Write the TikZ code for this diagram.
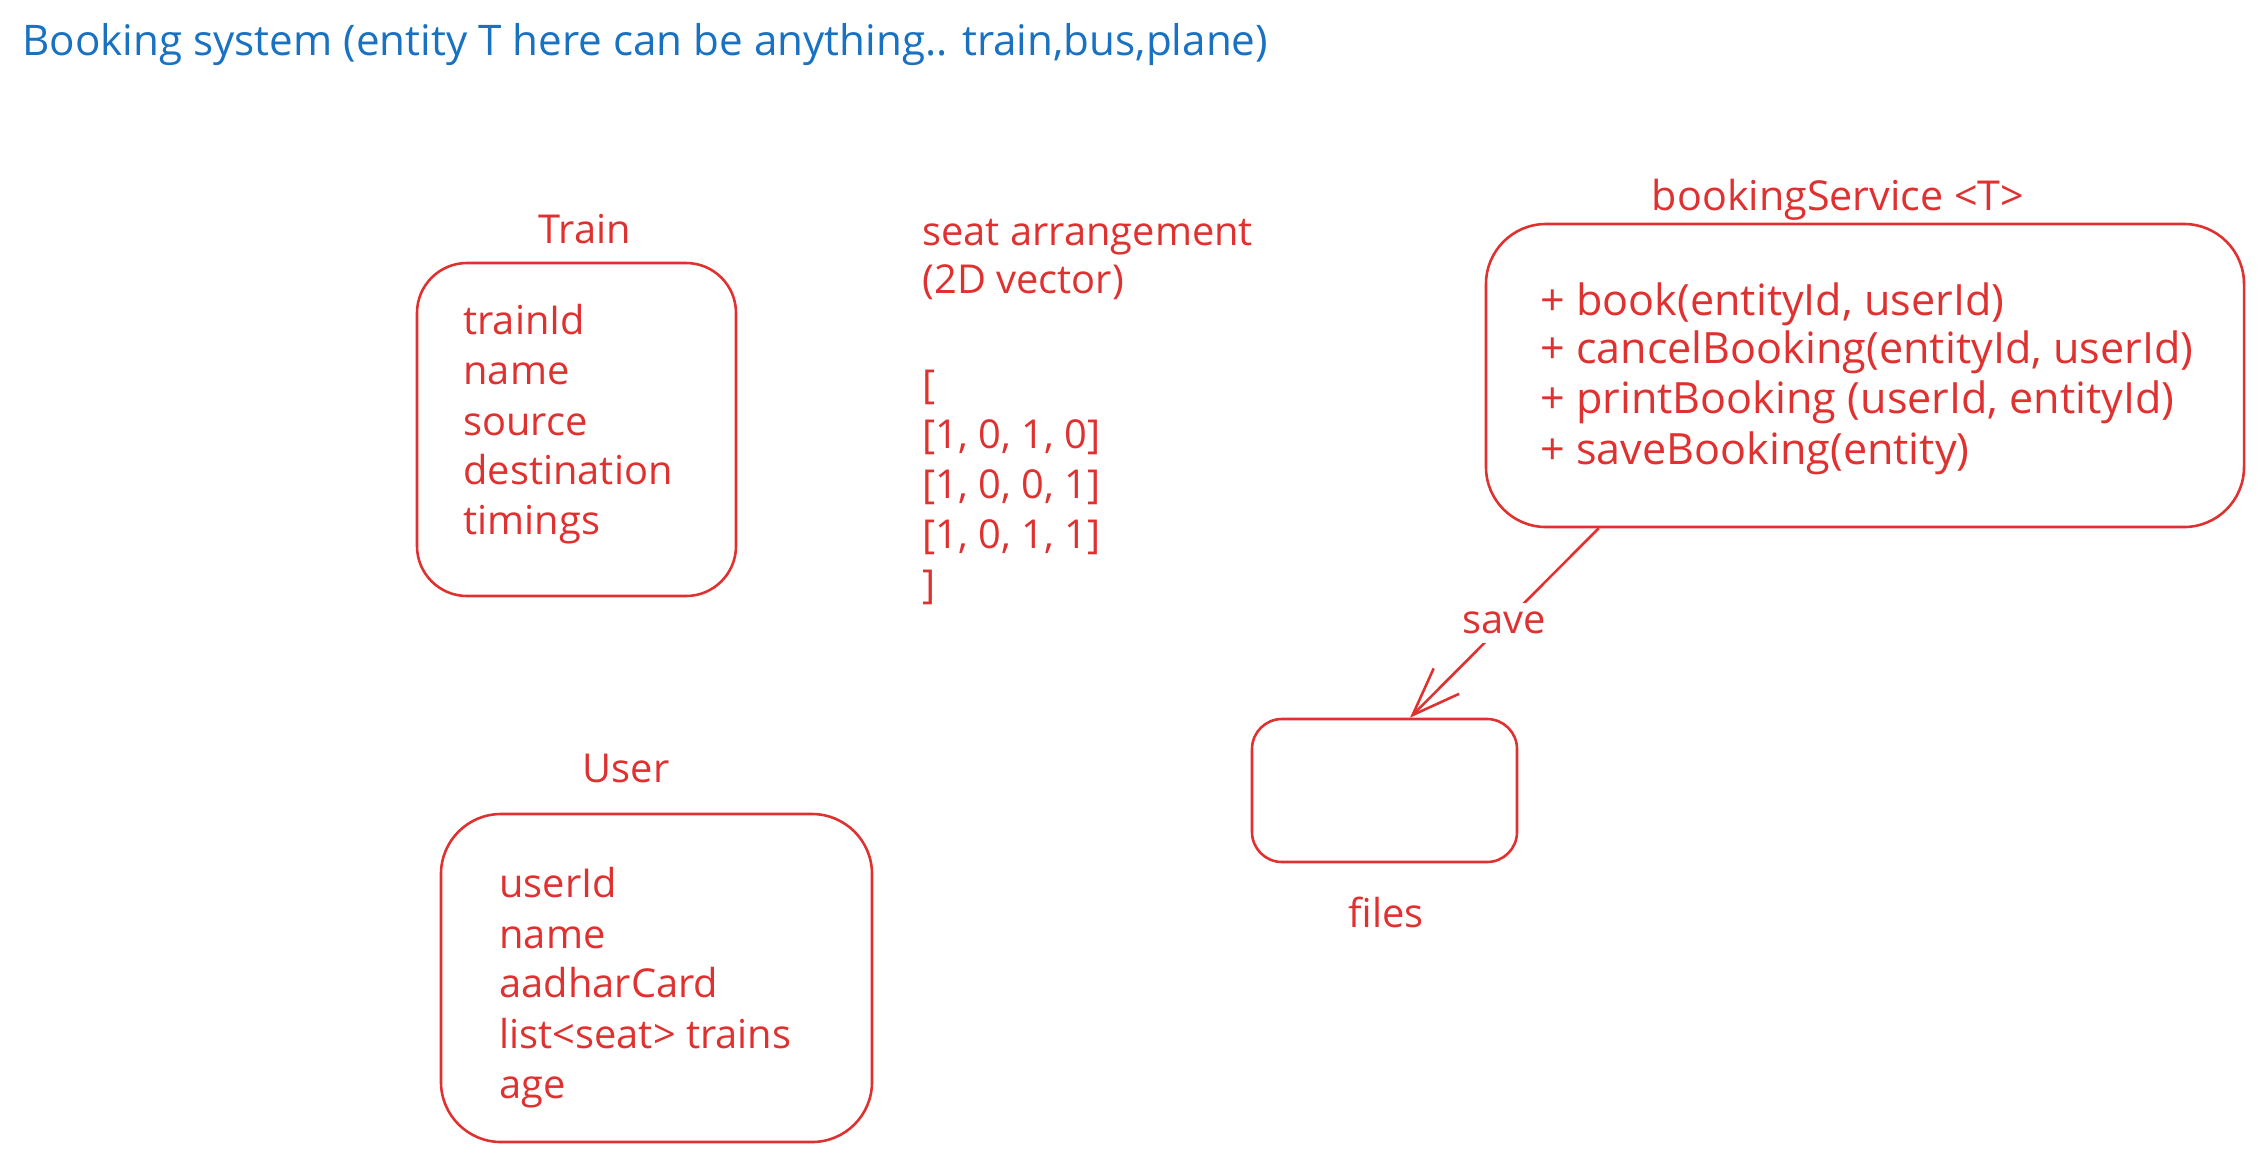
\documentclass[tikz,border=0pt]{standalone}
\usepackage{fontspec}
\setmainfont{Open Sans}
\usepackage{tikz}
\usetikzlibrary{arrows.meta,positioning,calc}
\definecolor{sketchred}{HTML}{E03131}
\definecolor{sketchblue}{HTML}{1971C2}

\begin{document}
\begin{tikzpicture}[scale=0.15]
                    \tikzstyle{every node}+=[inner sep=0pt, text=sketchred, font=\fontsize{17}{21}\selectfont]
                    \tikzstyle{box}=[draw=sketchred, line width=1.1pt, rounded corners=0.75cm]
                    \tikzstyle{attr}=[anchor=base west]
                    \tikzstyle{caption}=[anchor=base]
                    \tikzstyle{method}=[anchor=base west, font=\fontsize{18.4}{22}\selectfont]
                    \useasboundingbox (0,0) rectangle (226.3,-116);
                    \node [attr, text=sketchblue, font=\fontsize{18}{22}\selectfont] (title) at (2.2,-5.5) {Booking system (entity T here can be anything.. train,bus,plane)};
                    % train
                    \node [caption] (traincap) at (58.5,-24.3) {Train};
                    \node [box, minimum width=4.785cm, minimum height=4.995cm] (train) at (57.65,-42.95) {};
                    \node [attr] (t1) at (46.3,-33.4) {trainId};
                    \node [attr] (t2) at (46.3,-38.4) {name};
                    \node [attr] (t3) at (46.3,-43.5) {source};
                    \node [attr] (t4) at (46.3,-48.4) {destination};
                    \node [attr] (t5) at (46.3,-53.4) {timings};
                    % seats
                    \node [attr] (s1) at (92.2,-24.5) {seat arrangement};
                    \node [attr] (s2) at (92.2,-29.3) {(2D vector)};
                    \node [attr] (s3) at (92.2,-39.8) {[};
                    \node [attr] (s4) at (92.2,-44.8) {[1, 0, 1, 0]};
                    \node [attr] (s5) at (92.2,-49.8) {[1, 0, 0, 1]};
                    \node [attr] (s6) at (92.2,-54.8) {[1, 0, 1, 1]};
                    \node [attr] (s7) at (92.2,-59.8) {]};
                    % booking service
                    \node [caption, font=\fontsize{17.6}{21}\selectfont] (servicecap) at (183.8,-21.0) {bookingService <T>};
                    \node [box, rounded corners=0.9cm, minimum width=11.37cm, minimum height=4.545cm] (service) at (186.5,-37.55) {};
                    \node [method] (b1) at (154.0,-31.5) {+ book(entityId, userId)};
                    \node [method] (b2) at (154.0,-36.3) {+ cancelBooking(entityId, userId)};
                    \node [method] (b3) at (154.0,-41.3) {+ printBooking (userId, entityId)};
                    \node [method] (b4) at (154.0,-46.4) {+ saveBooking(entity)};
                    % files
                    \node [box, rounded corners=0.45cm, minimum width=3.975cm, minimum height=2.145cm] (files) at (138.45,-79.05) {};
                    \node [caption] (filescap) at (138.6,-92.7) {files};
                    \draw [sketchred, line width=1.1pt, -{Straight Barb[length=0.72cm, width=0.54cm]}] ($(service.south west)+(11.4,0)$) -- node [fill=white, inner sep=4pt] (savecap) {save} ($(files.north)+(2.55,0)$);
                    % user
                    \node [caption] (usercap) at (62.6,-78.2) {User};
                    \node [box, rounded corners=0.9cm, minimum width=6.465cm, minimum height=4.92cm] (user) at (65.65,-97.8) {};
                    \node [attr] (u1) at (49.9,-89.7) {userId};
                    \node [attr] (u2) at (49.9,-94.8) {name};
                    \node [attr] (u3) at (49.9,-99.7) {aadharCard};
                    \node [attr] (u4) at (49.9,-104.8) {list<seat> trains};
                    \node [attr] (u5) at (49.9,-109.8) {age};
                \end{tikzpicture}
\end{document}
